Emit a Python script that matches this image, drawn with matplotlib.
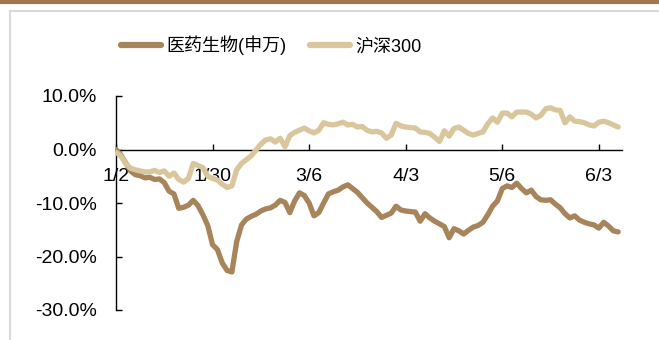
import numpy as np
import matplotlib
matplotlib.use('Agg')
from matplotlib import pyplot as plt
from matplotlib.lines import Line2D

# 医药生物(申万) 与 沪深300 累计涨跌幅(%)
pharma = [0.0, -1.0, -2.5, -4.0, -4.7, -4.9, -5.3, -5.2, -5.6, -5.5,
          -6.2, -7.8, -8.3, -11.0, -10.8, -10.4, -9.5, -10.5, -12.2, -14.2,
          -17.8, -18.7, -21.2, -22.6, -22.9, -17.2, -14.1, -13.0, -12.5, -12.1,
          -11.5, -11.1, -10.9, -10.4, -9.5, -9.9, -11.8, -9.6, -8.1, -8.6,
          -10.0, -12.4, -11.8, -10.0, -8.3, -7.9, -7.6, -7.0, -6.6, -7.3,
          -8.0, -9.0, -10.0, -10.8, -11.6, -12.7, -12.3, -11.9, -10.6, -11.3,
          -11.5, -11.6, -11.7, -13.4, -12.0, -12.8, -13.4, -13.9, -14.4, -16.5,
          -14.8, -15.2, -15.8, -15.1, -14.5, -14.2, -13.6, -12.2, -10.6, -9.6,
          -7.3, -6.8, -7.1, -6.3, -7.3, -8.1, -7.6, -8.8, -9.4, -9.5,
          -9.4, -10.2, -10.9, -12.0, -12.8, -12.4, -13.2, -13.6, -13.9, -14.1,
          -14.7, -13.6, -14.3, -15.2, -15.4]
hs300 = [-0.5, -1.2, -2.6, -3.5, -3.8, -4.0, -4.2, -4.2, -3.9, -4.3,
         -4.0, -5.0, -4.4, -5.6, -6.1, -5.4, -2.6, -3.0, -3.4, -5.0,
         -5.4, -5.7, -6.5, -7.1, -6.8, -3.8, -2.6, -1.9, -1.2, -0.1,
         1.0, 1.8, 2.0, 1.4, 2.1, 0.5, 2.6, 3.2, 3.6, 4.0,
         3.5, 3.1, 3.6, 5.0, 4.7, 4.6, 4.8, 5.1, 4.6, 4.7,
         4.2, 4.3, 3.6, 3.3, 3.4, 3.1, 2.1, 2.7, 4.9, 4.4,
         4.2, 4.1, 4.0, 3.3, 3.2, 3.0, 2.3, 1.5, 3.5, 2.5,
         3.9, 4.2, 3.6, 3.0, 2.7, 3.0, 3.3, 4.8, 5.9, 5.1,
         6.8, 6.8, 6.1, 7.0, 7.0, 7.0, 6.6, 5.9, 6.4, 7.6,
         7.8, 7.4, 7.3, 5.0, 6.1, 5.3, 5.2, 5.0, 4.6, 4.4,
         5.1, 5.3, 5.0, 4.6, 4.2]
tick_pos = [0, 20, 40, 60, 80, 100]
tick_labels = ['1/2', '1/30', '3/6', '4/3', '5/6', '6/3']
names = ['医药生物(申万)', '沪深300']

c_pharma = '#a8845a'
c_hs = '#d9c69c'

fig = plt.figure(figsize=(6.59, 3.40), dpi=100)
ax = fig.add_axes([116 / 659, 1 - 310 / 340, 506 / 659, 214 / 340])

x = np.arange(len(pharma))
ax.plot(x, pharma, color=c_pharma, lw=3.8, solid_capstyle='round', zorder=3)
ax.plot(x, hs300, color=c_hs, lw=3.8, solid_capstyle='round', zorder=4)

ax.set_xlim(0, 104.8)
ax.set_ylim(-30, 10)
ax.set_yticks([10, 0, -10, -20, -30])
ax.set_yticklabels(['%.1f%%' % v for v in [10, 0, -10, -20, -30]])
ax.set_xticks(tick_pos)
ax.set_xticklabels(tick_labels)

for s in ['top', 'right']:
    ax.spines[s].set_visible(False)
ax.spines['bottom'].set_position(('data', 0))
ax.spines['left'].set_linewidth(1.0)
ax.spines['bottom'].set_linewidth(1.0)
ax.tick_params(axis='both', direction='in', length=4, width=1.0,
               labelsize=14, colors='black')
ax.tick_params(axis='y', pad=14)
ax.tick_params(axis='x', pad=13)
for lab in ax.get_xticklabels() + ax.get_yticklabels():
    lab.set_fontfamily('Liberation Sans')

# 图例
handles = [Line2D([], [], color=c_pharma, lw=4.5, solid_capstyle='round'),
           Line2D([], [], color=c_hs, lw=4.5, solid_capstyle='round')]
fig.legend(handles, names, loc='center', bbox_to_anchor=(0.412, 0.866), ncol=2,
           frameon=False, handlelength=2.2, handletextpad=0.3, columnspacing=1.3,
           prop={'family': ['Liberation Sans', 'Noto Sans CJK SC'], 'size': 13})

# 外框
fig.add_artist(Line2D([0, 1], [0.995, 0.995], color='#a07850', lw=3, transform=fig.transFigure))
fig.add_artist(Line2D([10 / 659, 1], [1 - 11 / 340, 1 - 11 / 340], color='#d9d9d9', lw=1.5, transform=fig.transFigure))
fig.add_artist(Line2D([10 / 659, 10 / 659], [1 - 11 / 340, 0], color='#d9d9d9', lw=1.5, transform=fig.transFigure))

plt.savefig('out.png', dpi=100)
